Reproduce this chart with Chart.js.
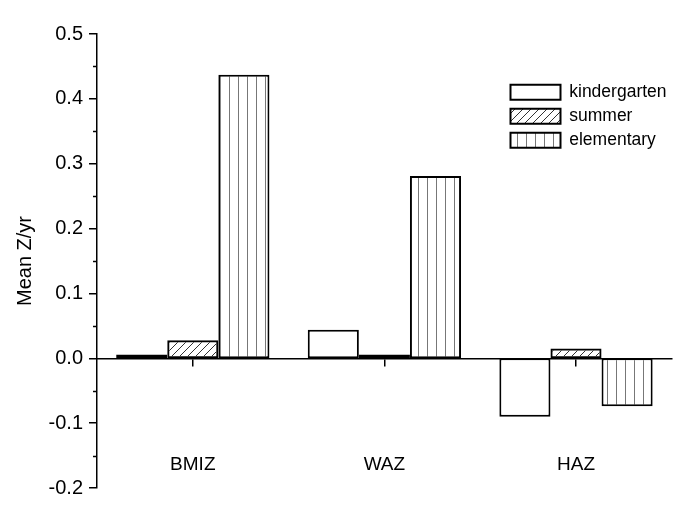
<!DOCTYPE html>
<html>
<head>
<meta charset="utf-8">
<script src="https://cdn.jsdelivr.net/npm/chart.js@4"></script>
<style>
  html, body { margin: 0; padding: 0; background: #fff; }
  #wrap { width: 685px; height: 517px; }
</style>
</head>
<body>
<div id="wrap"><canvas id="graf"></canvas></div>
<script>
// data
var grupos = ["BMIZ", "WAZ", "HAZ"];
var kindergarten = [0.006, 0.044, -0.090];
var summer = [0.028, 0.006, 0.015];
var elementary = [0.437, 0.281, -0.074];
var eixoY = { min: -0.2, max: 0.5, passo: 0.1, passoMenor: 0.05 };

// hachuras
function hachuraDiagonal() {
  var c = document.createElement("canvas");
  c.width = 8; c.height = 8;
  var g = c.getContext("2d");
  g.strokeStyle = "#333";
  g.lineWidth = 1;
  g.beginPath();
  g.moveTo(0, 8); g.lineTo(8, 0);
  g.moveTo(-1, 1); g.lineTo(1, -1);
  g.moveTo(7, 9); g.lineTo(9, 7);
  g.stroke();
  return g.createPattern(c, "repeat");
}

function hachuraVertical() {
  var c = document.createElement("canvas");
  c.width = 9; c.height = 4;
  var g = c.getContext("2d");
  g.fillStyle = "#fff";
  g.fillRect(0, 0, 9, 4);
  g.fillStyle = "#777";
  g.fillRect(4, 0, 1, 4);
  return g.createPattern(c, "repeat");
}

// ticks menores do eixo Y
var ticksMenores = {
  id: "ticksMenores",
  afterDraw: function (chart) {
    var y = chart.scales.y;
    var ctx = chart.ctx;
    var x0 = chart.chartArea.left;
    ctx.save();
    ctx.strokeStyle = "#000";
    ctx.lineWidth = 1.5;
    for (var v = eixoY.min + eixoY.passoMenor; v < eixoY.max; v += eixoY.passo) {
      var py = Math.round(y.getPixelForValue(v)) + 0.5;
      ctx.beginPath();
      ctx.moveTo(x0 - 4, py);
      ctx.lineTo(x0, py);
      ctx.stroke();
    }
    ctx.restore();
  }
};

// legenda dentro do grafico
var moverLegenda = {
  id: "moverLegenda",
  afterLayout: function (chart) {
    var leg = chart.legend;
    leg.left = 504;
    leg.top = 77;
  }
};

Chart.defaults.font.family = "'Liberation Sans', Arial, sans-serif";
Chart.defaults.color = "#000";

var graf = new Chart(document.getElementById("graf"), {
  type: "bar",
  data: {
    labels: grupos,
    datasets: [{
      label: "kindergarten",
      data: kindergarten,
      backgroundColor: "#fff",
      borderColor: "#000",
      borderWidth: 2,
      borderSkipped: false
    }, {
      label: "summer",
      data: summer,
      backgroundColor: hachuraDiagonal(),
      borderColor: "#000",
      borderWidth: 2,
      borderSkipped: false
    }, {
      label: "elementary",
      data: elementary,
      backgroundColor: hachuraVertical(),
      borderColor: "#000",
      borderWidth: 2,
      borderSkipped: false
    }]
  },
  options: {
    responsive: true,
    maintainAspectRatio: false,
    animation: false,
    categoryPercentage: 0.8,
    barPercentage: 1.0,
    layout: { padding: { top: 34, bottom: 29, right: 12, left: 0 } },
    plugins: {
      legend: {
        position: "chartArea",
        align: "start",
        labels: {
          boxWidth: 50,
          boxHeight: 15,
          padding: 6.5,
          font: { size: 17.5 }
        }
      },
      tooltip: { enabled: false }
    },
    scales: {
      x: {
        position: { y: 0 },
        grid: {
          offset: false,
          drawOnChartArea: false,
          tickLength: 7,
          color: "#000",
          lineWidth: 1.5
        },
        border: { display: true, color: "#000", width: 1.5 },
        ticks: { padding: 88, font: { size: 19 } }
      },
      y: {
        min: eixoY.min,
        max: eixoY.max,
        afterFit: function (s) { s.width = 97; },
        ticks: {
          stepSize: eixoY.passo,
          padding: 6,
          font: { size: 20 },
          callback: function (v) {
            var r = Math.round(v * 10) / 10;
            if (Math.abs(r) < 1e-9) r = 0;
            return r.toFixed(1);
          }
        },
        grid: {
          drawOnChartArea: false,
          tickLength: 8,
          color: "#000",
          lineWidth: 1.5
        },
        border: { display: true, color: "#000", width: 1.5 },
        title: {
          display: true,
          text: "Mean Z/yr",
          font: { size: 20 },
          padding: { top: 13, bottom: 4 }
        }
      }
    }
  },
  plugins: [ticksMenores, moverLegenda]
});
</script>
</body>
</html>
